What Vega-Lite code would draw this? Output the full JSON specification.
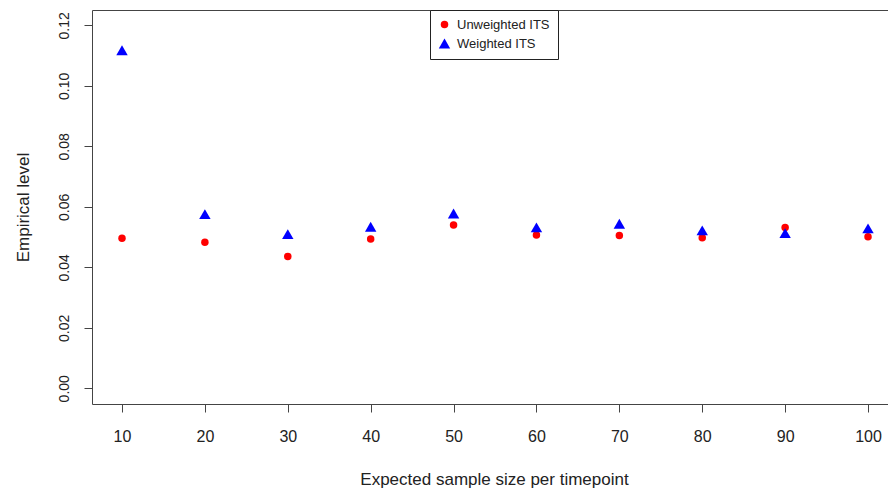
{
  "$schema": "https://vega.github.io/schema/vega-lite/v6.json",
  "width": 796,
  "height": 394,
  "autosize": {"type": "none"},
  "padding": {"left": 92, "top": 10, "right": 0, "bottom": 87},
  "background": "white",
  "config": {
    "view": {"stroke": null},
    "font": "Liberation Sans",
    "axis": {"grid": false, "domainColor": "#444", "tickColor": "#444", "labelColor": "#222", "titleColor": "#222", "titleFontWeight": "normal", "font": "Liberation Sans", "labelFont": "Liberation Sans", "titleFont": "Liberation Sans"}
  },
  "data": {
    "values": [
      {"size": 10, "level": 0.0496, "series": "Unweighted ITS"},
      {"size": 20, "level": 0.0483, "series": "Unweighted ITS"},
      {"size": 30, "level": 0.0436, "series": "Unweighted ITS"},
      {"size": 40, "level": 0.0494, "series": "Unweighted ITS"},
      {"size": 50, "level": 0.0540, "series": "Unweighted ITS"},
      {"size": 60, "level": 0.0507, "series": "Unweighted ITS"},
      {"size": 70, "level": 0.0505, "series": "Unweighted ITS"},
      {"size": 80, "level": 0.0498, "series": "Unweighted ITS"},
      {"size": 90, "level": 0.0532, "series": "Unweighted ITS"},
      {"size": 100, "level": 0.0501, "series": "Unweighted ITS"},
      {"size": 10, "level": 0.1118, "series": "Weighted ITS"},
      {"size": 20, "level": 0.0576, "series": "Weighted ITS"},
      {"size": 30, "level": 0.0510, "series": "Weighted ITS"},
      {"size": 40, "level": 0.0534, "series": "Weighted ITS"},
      {"size": 50, "level": 0.0578, "series": "Weighted ITS"},
      {"size": 60, "level": 0.0532, "series": "Weighted ITS"},
      {"size": 70, "level": 0.0544, "series": "Weighted ITS"},
      {"size": 80, "level": 0.0522, "series": "Weighted ITS"},
      {"size": 90, "level": 0.0513, "series": "Weighted ITS"},
      {"size": 100, "level": 0.0529, "series": "Weighted ITS"}
    ]
  },
  "layer": [
    {
      "mark": {"type": "point", "filled": true, "opacity": 1, "strokeWidth": 0},
      "encoding": {
        "x": {
          "field": "size", "type": "quantitative",
          "scale": {"domain": [6.38, 102.41], "nice": false, "zero": false},
          "axis": {
            "orient": "bottom", "values": [10, 20, 30, 40, 50, 60, 70, 80, 90, 100],
            "tickSize": 8, "labelFontSize": 16, "labelPadding": 29, "labelBaseline": "alphabetic",
            "labelFlush": false, "labelOverlap": false,
            "title": "Expected sample size per timepoint", "titleFontSize": 17,
            "titleX": 402, "titleY": 80, "titleBaseline": "alphabetic", "titleAlign": "center", "titleAnchor": null
          }
        },
        "y": {
          "field": "level", "type": "quantitative",
          "scale": {"domain": [-0.0052, 0.1251], "nice": false, "zero": false},
          "axis": {
            "values": [0, 0.02, 0.04, 0.06, 0.08, 0.1, 0.12], "format": ".2f",
            "tickSize": 8, "labelFontSize": 14, "labelAngle": 270, "labelAlign": "center",
            "labelBaseline": "alphabetic", "labelPadding": 16, "labelFlush": false, "labelOverlap": false,
            "title": "Empirical level", "titleFontSize": 17, "titleAngle": 270,
            "titleX": -64, "titleY": 197, "titleBaseline": "alphabetic", "titleAlign": "center", "titleAnchor": null
          }
        },
        "color": {
          "field": "series", "type": "nominal",
          "scale": {"domain": ["Unweighted ITS", "Weighted ITS"], "range": ["#FF0000", "#0000FF"]},
          "legend": {
            "title": null, "orient": "none", "legendX": 338, "legendY": 0,
            "strokeColor": "#222", "fillColor": "white", "padding": 8, "rowPadding": 5,
            "labelFontSize": 13, "labelColor": "#222", "labelFont": "Liberation Sans", "labelOffset": 6,
            "symbolStrokeWidth": 0
          }
        },
        "shape": {
          "field": "series", "type": "nominal",
          "scale": {"domain": ["Unweighted ITS", "Weighted ITS"], "range": ["circle", "triangle-up"]}
        },
        "size": {
          "field": "series", "type": "nominal",
          "scale": {"domain": ["Unweighted ITS", "Weighted ITS"], "range": [56, 130]}
        }
      }
    },
    {
      "mark": {"type": "point", "opacity": 0},
      "encoding": {
        "x": {
          "field": "size", "type": "quantitative",
          "axis": {"orient": "top", "labels": false, "ticks": false, "title": null}
        },
        "y": {"field": "level", "type": "quantitative"}
      }
    }
  ],
  "resolve": {"axis": {"x": "independent"}}
}
